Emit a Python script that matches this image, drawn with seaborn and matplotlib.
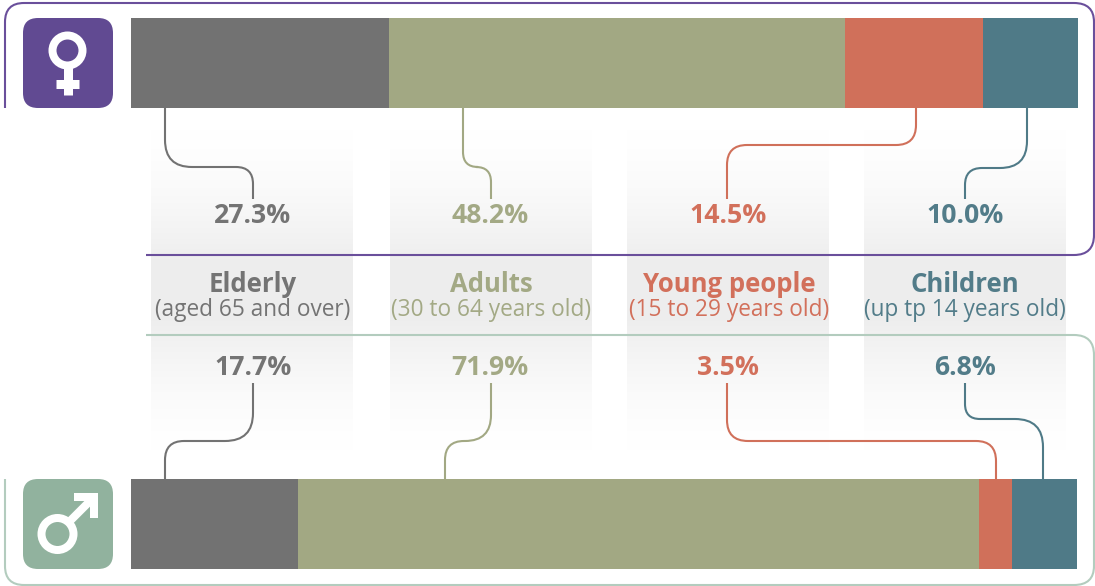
import numpy as np
import pandas as pd
import matplotlib
matplotlib.use('Agg')
import matplotlib.pyplot as plt
from matplotlib.patches import FancyBboxPatch, PathPatch, Circle
from matplotlib.path import Path
import seaborn as sns

# values
groups = ['Elderly', 'Adults', 'Young people', 'Children']
ages = ['(aged 65 and over)', '(30 to 64 years old)', '(15 to 29 years old)', '(up tp 14 years old)']
women = [27.3, 48.2, 14.5, 10.0]
men = [17.7, 71.9, 3.5, 6.8]
sexes = ['Women', 'Men']

colors = ['#727272', '#A2A883', '#D0705A', '#4F7A87']
text_colors = ['#747474', '#A3A985', '#D2705B', '#527C89']
purple = '#6A4F9B'
green = '#B3CCBE'

W, H = 1095, 586
sns.set_theme(style='white')
plt.rcParams['font.family'] = ['Open Sans', 'DejaVu Sans']

fig = plt.figure(figsize=(W / 100, H / 100), dpi=100, facecolor='white')

# full figure axes in pixels for the frames, icons, leaders and labels
ax = fig.add_axes([0, 0, 1, 1])
ax.set_xlim(0, W)
ax.set_ylim(H, 0)
ax.axis('off')

# grey bands behind the labels, fading out up and down
band_x = [151, 390, 627, 864]
ys = np.linspace(0, 1, 200)
fade = np.clip(np.minimum(ys / 0.42, (1 - ys) / 0.42), 0, 1) ** 1.6
shade = np.ones((200, 1, 4))
shade[..., :3] = 0.93
shade[:, 0, 3] = fade
for bx in band_x:
    ax.imshow(shade, extent=[bx, bx + 202, 455, 125], aspect='auto', zorder=1)
ax.set_xlim(0, W)
ax.set_ylim(H, 0)


def frame(points, color):
    codes = [Path.MOVETO]
    verts = [points[0]]
    for p in points[1:]:
        if len(p) == 4:  # rounded corner: control point then end
            verts += [(p[0], p[1]), (p[2], p[3])]
            codes += [Path.CURVE3, Path.CURVE3]
        else:
            verts.append(p)
            codes.append(Path.LINETO)
    ax.add_patch(PathPatch(Path(verts, codes), fill=False, ec=color, lw=1.5, zorder=3))


frame([(5, 108), (5, 22), (5, 3, 24, 3), (1074, 3), (1094, 3, 1094, 22), (1094, 235),
       (1094, 255, 1074, 255), (146, 255)], purple)
frame([(146, 335), (1074, 335), (1094, 335, 1094, 355), (1094, 566), (1094, 585, 1074, 585),
       (24, 585), (5, 585, 5, 566), (5, 479)], green)


def leader(x0, y0, x1, y1, ym, r0, r1, color):
    # vertical, round corner, horizontal, round corner, vertical
    sx = np.sign(x1 - x0)
    s0 = np.sign(ym - y0)
    s1 = np.sign(y1 - ym)
    verts = [(x0, y0), (x0, ym - s0 * r0), (x0, ym), (x0 + sx * r0, ym),
             (x1 - sx * r1, ym), (x1, ym), (x1, ym + s1 * r1), (x1, y1)]
    codes = [Path.MOVETO, Path.LINETO, Path.CURVE3, Path.CURVE3,
             Path.LINETO, Path.CURVE3, Path.CURVE3, Path.LINETO]
    ax.add_patch(PathPatch(Path(verts, codes), fill=False, ec=color, lw=1.5, zorder=4))


leader(165, 108, 253, 199, 167, 27, 17, colors[0])
leader(463, 108, 491, 199, 167, 15, 15, colors[1])
leader(916, 108, 727, 199, 145, 20, 20, colors[2])
leader(1027, 108, 965, 199, 168, 27, 17, colors[3])
leader(253, 383, 165, 479, 441, 28, 19, colors[0])
leader(491, 383, 445, 479, 441, 26, 19, colors[1])
leader(727, 383, 996, 479, 441, 21, 20, colors[2])
leader(965, 383, 1043, 479, 419, 15, 28, colors[3])

# labels
label_x = [253, 491, 729, 965]
value_x = [253, 490, 728, 965]
for i in range(4):
    ax.text(value_x[i], 216, f'{women[i]:.1f}%', color=text_colors[i], fontsize=19.2, fontweight='bold',
            ha='center', va='center', zorder=5)
    ax.text(value_x[i], 368, f'{men[i]:.1f}%', color=text_colors[i], fontsize=19.2, fontweight='bold',
            ha='center', va='center', zorder=5)
    ax.text(label_x[i], 284, groups[i], color=text_colors[i], fontsize=18.5, fontweight='bold',
            ha='center', va='center', zorder=5)
    ax.text(label_x[i], 309.5, ages[i], color=text_colors[i], fontsize=16.3,
            ha='center', va='center', zorder=5)

# icons
for top, col in [(18, '#614A92'), (479, '#91B29E')]:
    ax.add_patch(FancyBboxPatch((23 + 15, top + 15), 60, 60, boxstyle='round,pad=15,rounding_size=15',
                                fc=col, ec='none', zorder=3))
px = 0.72  # points per pixel

# female sign
ax.add_patch(Circle((67.5, 50.5), 15, fc='none', ec='white', lw=8 * px, zorder=5))
ax.plot([67.5, 67.5], [67, 95], color='white', lw=9 * px, solid_capstyle='butt', zorder=5)
ax.plot([56, 79], [83.5, 83.5], color='white', lw=9 * px, solid_capstyle='butt', zorder=5)

# male sign
ax.add_patch(Circle((57.5, 534), 16, fc='none', ec='white', lw=8 * px, zorder=5))
ax.plot([70, 95], [521, 496], color='white', lw=8 * px, solid_capstyle='butt', zorder=5)
ax.plot([74, 94, 94], [497, 497, 518], color='white', lw=8 * px, solid_capstyle='butt',
        solid_joinstyle='miter', zorder=5)

# stacked bars, drawn longest first so that each one shows its own part
left, right = 130.5, 1077.5
top, bottom = 18, 569
bar_h = 90 / 461
ax_bars = fig.add_axes([left / W, 1 - bottom / H, (right - left) / W, (bottom - top) / H])
ax_bars.patch.set_alpha(0)

df = pd.DataFrame({'sex': sexes * 4,
                   'group': np.repeat(groups, 2),
                   'value': [v for pair in zip(women, men) for v in pair]})
df['end'] = df.groupby('sex')['value'].cumsum()

for i in range(3, -1, -1):
    sns.barplot(data=df[df['group'] == groups[i]], x='end', y='sex', order=sexes, orient='h',
                color=colors[i], saturation=1, width=bar_h, linewidth=0, ax=ax_bars)

ax_bars.set_xlim(0, 100)
ax_bars.set_ylim(1 + bar_h / 2, -bar_h / 2)
ax_bars.axis('off')

fig.savefig('out.png', dpi=100)
